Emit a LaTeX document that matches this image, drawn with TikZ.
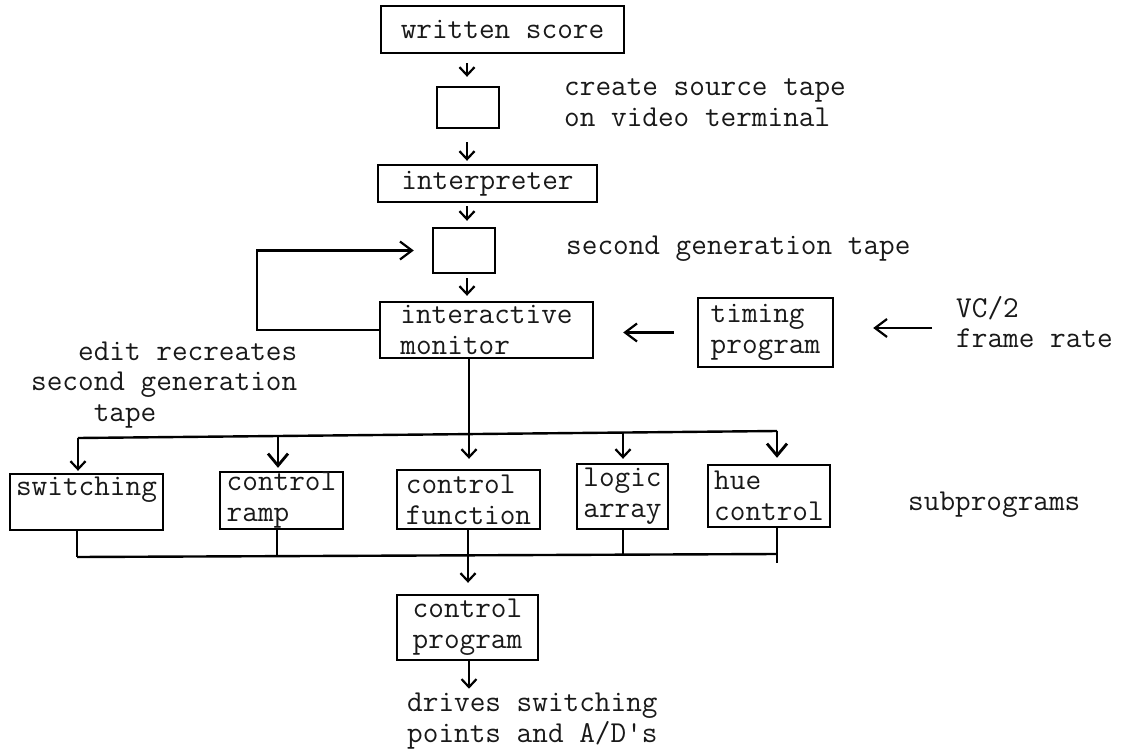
\documentclass[tikz,border=0pt]{standalone}
\usepackage{fontspec}
\usetikzlibrary{arrows.meta}
\begin{document}
\begin{tikzpicture}[x=1bp,y=-1bp,
  every node/.style={font=\ttfamily\fontsize{30.5}{31}\selectfont, text=black!90},
  box/.style={draw=black, line width=2.4bp, inner sep=0pt, align=left},
  lbl/.style={inner sep=0pt, align=left, anchor=west},
  ln/.style={line width=2.4bp, draw=black},
  arr/.style={ln, -{Straight Barb[length=8bp,width=15bp,line width=2.2bp]}},
  midarr/.style={ln, -{Straight Barb[length=12bp,width=18bp,line width=2.2bp]}},
  bigarr/.style={ln, -{Straight Barb[length=12bp,width=20bp,line width=2.8bp]}},
]
\useasboundingbox (0,0) rectangle (1125,755);

% boxes
\node[box, minimum width=243bp, minimum height=47bp] (ws) at (502.5,29.5) {written score};
\node[box, minimum width=62bp, minimum height=41bp] (src) at (468,107.5) {};
\node[box, minimum width=219bp, minimum height=37bp] (interp) at (487.5,183.5) {interpreter};
\node[box, minimum width=62bp, minimum height=45bp] (gen2) at (464,250.5) {};
\node[box, minimum width=213bp, minimum height=56bp] (mon) at (486.5,330) {interactive\\monitor};
\node[box, minimum width=135bp, minimum height=69bp] (tim) at (765.5,332.5) {timing\\program};
\node[box, minimum width=153bp, minimum height=56bp] (sw) at (86.5,502) {switching\\\mbox{}};
\node[box, minimum width=123bp, minimum height=57bp] (ramp) at (281.5,500.5) {control\\ramp};
\node[box, minimum width=143bp, minimum height=59bp] (func) at (468.5,499.5) {control\\function};
\node[box, minimum width=91bp, minimum height=65bp] (logic) at (622.5,496.5) {logic\\array};
\node[box, minimum width=122bp, minimum height=62bp] (hue) at (769,496) {hue\\control};
\node[box, minimum width=141bp, minimum height=65bp] (prog) at (467.5,627.5) {control\\program};

% labels
\node[lbl] (t1) at (564,103) {create source tape\\on video terminal};
\node[lbl] (t2) at (566,249) {second generation tape};
\node[lbl] (t3) at (956,322) {VC/2\\frame rate};
\node[lbl] (t4) at (31,385) {\phantom{sec}edit recreates\\second generation\\\phantom{seco}tape};
\node[lbl] (t5) at (908,505) {subprograms};
\node[lbl] (t6) at (407,721) {drives switching\\points and A/D\textquotesingle s};

% helper coordinates
\coordinate (cx) at (467,0);
\coordinate (fx) at (469,0);
\coordinate (vcin) at (932,328);
\coordinate (bl) at (78,438);
\coordinate (b2) at (278,436);
\coordinate (b4) at (623,432.5);
\coordinate (br) at (777,431);
\coordinate (ql) at (77,557);
\coordinate (q2) at (277,556);
\coordinate (q3) at (468,555);
\coordinate (q4) at (623,554.5);
\coordinate (qr) at (777,554);

% main column
\draw[arr, shorten <=9bp, shorten >=9bp] (cx |- ws.south) -- (cx |- src.north);
\draw[arr, shorten <=13bp, shorten >=3bp] (cx |- src.south) -- (cx |- interp.north);
\draw[arr, shorten <=3bp, shorten >=6bp] (cx |- interp.south) -- (cx |- gen2.north);
\draw[arr, shorten <=4bp, shorten >=5bp] (cx |- gen2.south) -- (cx |- mon.north);

% feedback loop
\draw[midarr, shorten >=18bp] (mon.west) -- ++(-122,0) |- (gen2.west);

% timing
\draw[midarr, shorten <=23bp, shorten >=29bp] (tim.west) -- (tim.west -| mon.east);
\draw[midarr, shorten >=39bp] (vcin) -- (vcin -| tim.east);

% distribution bus
\draw[arr, shorten >=10bp] (fx |- mon.south) -- (fx |- func.north);
\draw[ln] (bl) -- (br);
\draw[arr, shorten >=2bp] (bl) -- (bl |- sw.north);
\draw[bigarr, shorten >=3bp] (b2) -- (b2 |- ramp.north);
\draw[arr, shorten >=4bp] (b4) -- (b4 |- logic.north);
\draw[bigarr, shorten >=6bp] (br) -- (br |- hue.north);

% collecting bus
\draw[ln] (ql) -- (qr);
\draw[ln] (ql |- sw.south) -- (ql);
\draw[ln] (q2 |- ramp.south) -- (q2);
\draw[ln] (q4 |- logic.south) -- (q4);
\draw[ln] (qr |- hue.south) -- ++(0,35);
\draw[arr, shorten >=11bp] (q3 |- func.south) -- (q3 |- prog.north);
\draw[arr, shorten >=4bp] (fx |- prog.south) -- (fx |- t6.north);
\end{tikzpicture}
\end{document}
